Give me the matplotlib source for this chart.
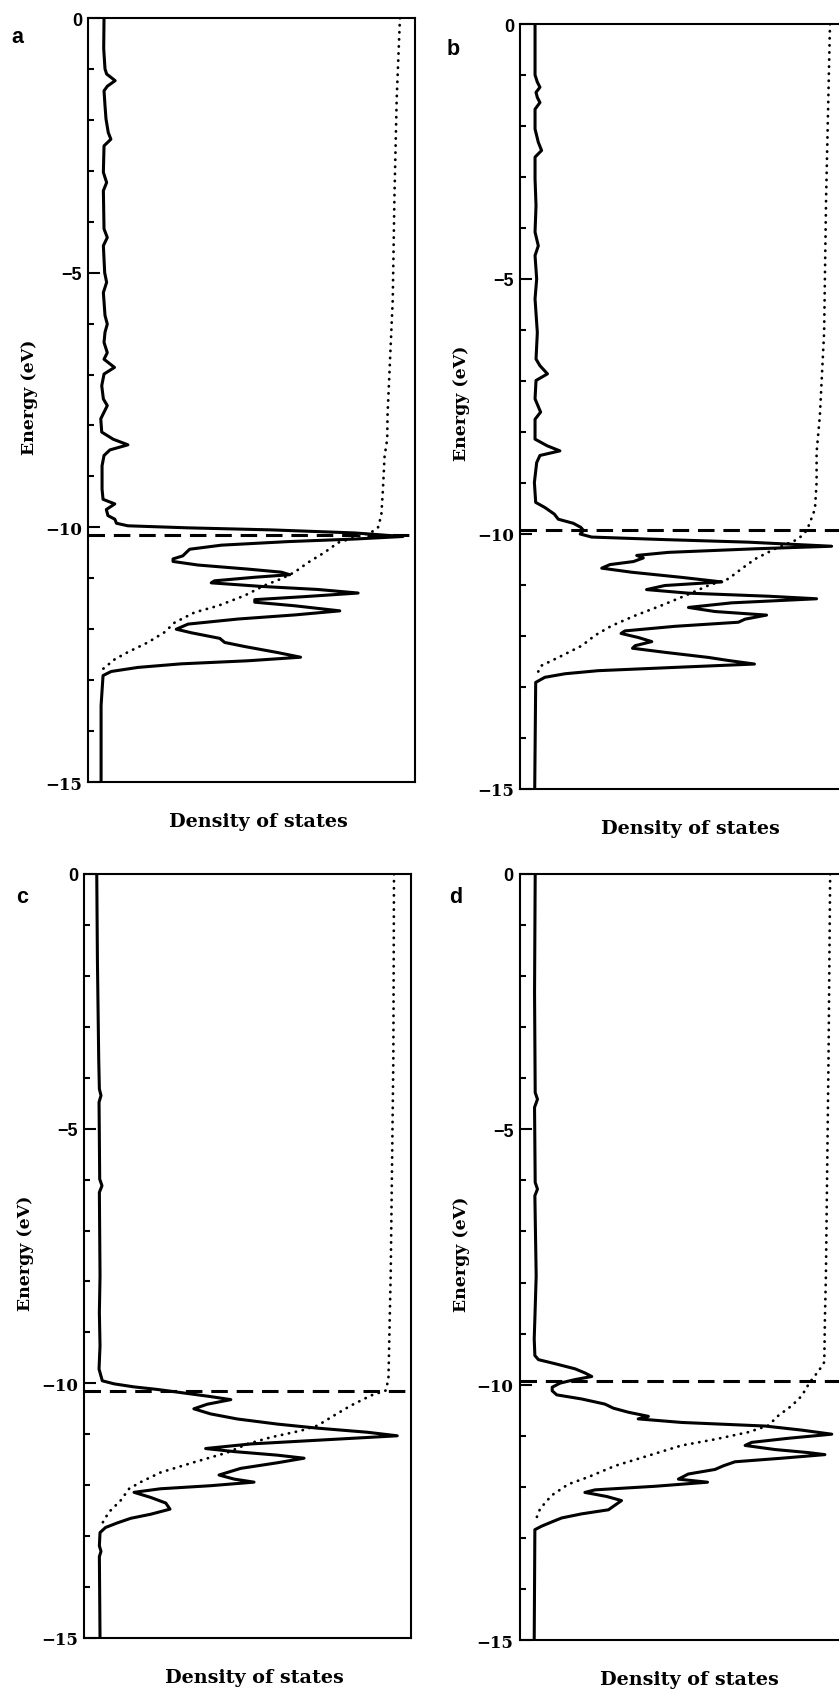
import matplotlib
matplotlib.use("Agg")
import matplotlib.pyplot as plt
from matplotlib.ticker import MultipleLocator
from matplotlib.font_manager import FontProperties

# ---------------- data (energy in eV, DOS in % of panel width) ----------------
# Panel a
a_solid_E = [0, -0.6, -1.0, -1.1, -1.23, -1.34, -1.43, -1.72, -1.98, -2.25, -2.38, -2.51, -3.03, -3.23,
             -3.39, -4.14, -4.31, -4.47, -5.0, -5.19, -5.39, -5.84, -6.01, -6.17, -6.37, -6.57, -6.7,
             -6.86, -6.99, -7.22, -7.48, -7.61, -7.74, -7.87, -8.13, -8.27, -8.38, -8.48, -8.59, -8.79,
             -9.25, -9.45, -9.54, -9.65, -9.77, -9.84, -9.92, -9.97, -10.01, -10.05, -10.11, -10.18,
             -10.23, -10.28, -10.35, -10.43, -10.49, -10.56, -10.62, -10.67, -10.74, -10.82, -10.88,
             -10.93, -10.98, -11.05, -11.09, -11.16, -11.22, -11.29, -11.36, -11.42, -11.47, -11.54,
             -11.64, -11.72, -11.8, -11.9, -12.0, -12.07, -12.18, -12.26, -12.34, -12.46, -12.55,
             -12.62, -12.68, -12.75, -12.83, -12.91, -13.5, -15.0]
a_solid_D = [4.9, 4.8, 5.2, 5.7, 8.3, 5.9, 4.9, 5.2, 5.5, 6.2, 7.0, 4.9, 4.7, 5.7,
             4.7, 4.9, 5.9, 4.7, 5.1, 5.7, 4.7, 5.2, 5.9, 5.2, 4.9, 5.9, 4.9,
             8.1, 4.9, 4.2, 4.7, 5.9, 4.9, 3.9, 4.2, 7.7, 12.2, 6.7, 4.9, 4.3,
             4.3, 4.6, 8.2, 5.6, 6.1, 8.2, 8.7, 12.2, 30.6, 56.0, 81.5, 96.3,
             81.5, 61.2, 40.8, 31.1, 30.1, 29.0, 26.0, 26.0, 33.6, 48.9, 59.1,
             61.7, 51.0, 38.7, 37.7, 53.0, 70.3, 82.6, 66.3, 51.0, 51.0, 63.2,
             77.0, 63.2, 45.9, 30.6, 27.0, 31.6, 40.3, 41.8, 47.9, 58.1, 65.0,
             48.9, 28.5, 15.3, 7.1, 4.6, 4.0, 4.0]
a_int_E = [0, -1.59, -3.55, -5.52, -7.8, -8.27, -8.6, -9.25, -9.76, -10.0, -10.1, -10.3, -10.49,
           -10.69, -10.88, -11.01, -11.14, -11.34, -11.54, -11.67, -11.87, -12.06, -12.26, -12.45,
           -12.59, -12.78]
a_int_D = [95.4, 94.4, 93.7, 93.2, 91.6, 91.5, 90.7, 90.2, 89.7, 88.7, 86.6, 76.5, 72.4,
           67.3, 63.2, 59.1, 54.0, 47.9, 39.8, 32.6, 26.5, 23.4, 18.3, 12.2,
           8.2, 4.6]
a_fermi = -10.16

# Panel b
b_solid_E = [0, -1.0, -1.14, -1.24, -1.34, -1.44, -1.54, -1.67, -2.06, -2.32, -2.48, -2.61, -3.04,
             -3.56, -4.08, -4.35, -4.54, -5.0, -5.39, -6.05, -6.57, -6.7, -6.86, -6.99, -7.35, -7.61,
             -7.75, -8.14, -8.27, -8.37, -8.46, -8.6, -8.99, -9.38, -9.48, -9.61, -9.71, -9.79, -9.87,
             -9.93, -10.0, -10.06, -10.11, -10.16, -10.24, -10.29, -10.36, -10.42, -10.47, -10.54,
             -10.6, -10.67, -10.75, -10.85, -10.94, -11.01, -11.09, -11.16, -11.22, -11.27, -11.35,
             -11.44, -11.52, -11.59, -11.67, -11.73, -11.81, -11.9, -11.95, -12.03, -12.11, -12.19,
             -12.24, -12.32, -12.42, -12.48, -12.55, -12.61, -12.68, -12.74, -12.81, -12.91, -15.0]
b_solid_D = [4.6, 4.6, 5.3, 6.1, 4.9, 5.3, 6.1, 4.6, 4.6, 5.6, 6.6, 4.6, 4.6,
             4.9, 4.6, 5.6, 4.6, 5.1, 4.6, 5.3, 4.9, 6.1, 8.4, 4.9, 4.6, 6.3,
             4.6, 4.6, 8.3, 12.2, 6.1, 5.1, 4.4, 4.8, 7.6, 10.5, 11.7, 16.3, 18.6,
             19.4, 18.4, 21.9, 44.3, 69.8, 95.3, 71.9, 45.4, 35.7, 37.7, 34.7,
             27.5, 25.0, 34.2, 49.4, 61.7, 44.3, 38.7, 51.5, 76.0, 90.7, 64.7,
             51.5, 59.6, 75.4, 68.8, 66.8, 47.4, 32.1, 30.9, 36.2, 40.3, 35.2,
             34.4, 44.3, 57.6, 63.7, 71.7, 49.4, 23.9, 13.8, 7.6, 4.8, 4.5]
b_int_E = [0, -3.43, -6.05, -7.68, -8.4, -8.99, -9.51, -9.77, -9.93, -10.1, -10.29, -10.49, -10.68,
           -10.88, -11.01, -11.21, -11.4, -11.6, -11.8, -11.99, -12.19, -12.39, -12.58, -12.81]
b_int_D = [94.8, 93.6, 93.0, 91.7, 90.7, 90.7, 90.2, 88.7, 87.7, 85.1, 78.0, 71.9, 67.8,
           63.7, 57.6, 50.5, 43.3, 35.2, 28.0, 22.9, 18.9, 12.7, 6.6, 4.6]
b_fermi = -9.92

# Panel c
c_solid_E = [0, -1.67, -3.63, -4.22, -4.35, -4.48, -5.99, -6.12, -6.25, -7.89, -8.61, -9.26, -9.72,
             -9.95, -10.01, -10.07, -10.12, -10.19, -10.26, -10.32, -10.41, -10.5, -10.6, -10.7,
             -10.8, -10.88, -10.96, -11.03, -11.11, -11.19, -11.28, -11.34, -11.41, -11.47, -11.56,
             -11.67, -11.8, -11.88, -11.94, -12.01, -12.07, -12.14, -12.24, -12.35, -12.47, -12.57,
             -12.65, -12.74, -12.83, -12.93, -13.19, -13.3, -13.4, -15.0]
c_solid_D = [3.9, 4.1, 4.5, 4.7, 5.2, 4.6, 4.8, 5.5, 4.7, 4.9, 4.7, 4.9, 4.6,
             5.6, 9.2, 15.3, 22.4, 30.6, 38.7, 44.9, 37.7, 33.6, 38.7, 46.9,
             59.1, 71.4, 86.6, 95.8, 73.4, 51.0, 37.2, 45.9, 59.1, 67.3, 59.1,
             47.9, 41.3, 45.9, 52.0, 38.7, 23.4, 15.3, 20.4, 25.0, 26.3, 20.4,
             14.3, 10.2, 6.6, 4.9, 4.7, 5.2, 4.7, 4.9]
c_int_E = [0, -3.63, -7.82, -9.92, -10.05, -10.14, -10.24, -10.44, -10.63, -10.83, -10.93, -11.06,
           -11.19, -11.36, -11.55, -11.75, -11.94, -12.07, -12.3, -12.53, -12.8]
c_int_D = [94.8, 94.6, 93.8, 93.1, 92.6, 92.3, 87.7, 81.5, 76.5, 71.4, 66.3, 57.1,
           50.0, 43.8, 33.6, 23.4, 17.3, 13.8, 11.2, 7.6, 5.1]
c_fermi = -10.16

# Panel d
d_solid_E = [0, -2.32, -4.28, -4.41, -4.57, -6.04, -6.17, -6.3, -7.87, -8.71, -9.1, -9.43, -9.51,
             -9.59, -9.69, -9.77, -9.84, -9.9, -9.97, -10.05, -10.12, -10.2, -10.28, -10.38, -10.46,
             -10.54, -10.62, -10.67, -10.74, -10.81, -10.89, -10.97, -11.05, -11.13, -11.19, -11.27,
             -11.33, -11.37, -11.44, -11.51, -11.59, -11.66, -11.75, -11.85, -11.91, -11.99, -12.06,
             -12.11, -12.19, -12.27, -12.36, -12.45, -12.53, -12.61, -12.69, -12.77, -12.84, -15.0]
d_solid_D = [4.8, 4.6, 4.8, 5.5, 4.6, 4.8, 5.5, 4.7, 5.1, 4.7, 4.5, 4.7, 5.8,
             10.9, 17.0, 20.0, 22.1, 17.0, 12.4, 10.0, 10.0, 11.4, 19.0, 26.1, 28.7,
             33.3, 39.4, 36.3, 49.6, 75.1, 86.3, 95.5, 82.2, 71.0, 69.0, 78.1,
             88.3, 93.4, 80.2, 65.9, 62.3, 59.8, 51.6, 48.6, 57.5, 41.4, 23.1,
             20.0, 26.7, 31.2, 29.2, 27.2, 19.0, 12.9, 9.8, 6.8, 4.7, 4.5]
d_int_E = [0, -3.62, -7.87, -8.71, -9.56, -9.69, -9.82, -9.95, -10.22, -10.41, -10.61, -10.8,
           -10.93, -11.07, -11.19, -11.39, -11.59, -11.81, -11.95, -12.17, -12.43, -12.69]
d_int_D = [95.0, 94.5, 93.7, 93.4, 93.2, 91.9, 90.4, 88.8, 86.3, 83.3, 79.1, 76.1,
           70.0, 59.8, 49.6, 39.4, 29.2, 21.0, 14.9, 9.8, 6.3, 4.7]
d_fermi = -9.92

panel_letters = ["a", "b", "c", "d"]
ytick_values = [0, -5, -10, -15]
ytick_labels = ["0", "\u22125", "\u221210", "\u221215"]
xlabel_text = "Density of states"
ylabel_text = "Energy (eV)"

# ---------------- figure ----------------
W, H = 839, 1690
fig = plt.figure(figsize=(W / 100, H / 100), dpi=100)

# pixel boxes: left, top, right, bottom
boxes = [(88, 19, 415, 783), (520, 25, 847, 790), (84, 875, 411, 1639), (519.5, 875, 846.5, 1641)]
letter_pos = [(11.7, 43.3), (446.7, 55), (16, 902.7), (449.3, 903.3)]

panels = [
    (a_solid_E, a_solid_D, a_int_E, a_int_D, a_fermi),
    (b_solid_E, b_solid_D, b_int_E, b_int_D, b_fermi),
    (c_solid_E, c_solid_D, c_int_E, c_int_D, c_fermi),
    (d_solid_E, d_solid_D, d_int_E, d_int_D, d_fermi),
]

sans_bold = FontProperties(family="Liberation Sans", weight="bold", size=13)
serif_bold = FontProperties(family="DejaVu Serif", weight="bold", size=12)

for i, ((sE, sD, iE, iD, ef), (l, t, r, b)) in enumerate(zip(panels, boxes)):
    ax = fig.add_axes([l / W, 1 - b / H, (r - l) / W, (b - t) / H])
    ax.set_xlim(0, 100)
    ax.set_ylim(-15, 0)
    ax.plot(sD, sE, color="black", lw=2.2, solid_joinstyle="round", solid_capstyle="round", zorder=3)
    ax.plot(iD, iE, color="black", lw=2.0, linestyle=(0, (0.1, 2.45)), dash_capstyle="round", zorder=3)
    ax.axhline(ef, color="black", lw=2.2, linestyle=(0, (5.4, 2.9)), zorder=4)

    for sp in ax.spines.values():
        sp.set_linewidth(1.5)
    ax.set_xticks([])
    ax.set_yticks(ytick_values, ytick_labels)
    ax.yaxis.set_minor_locator(MultipleLocator(1))
    ax.tick_params(axis="y", which="major", direction="in", length=8.6, width=1.5, pad=4.3)
    ax.tick_params(axis="y", which="minor", direction="in", length=4.5, width=1.5)
    for v, tk in zip(ytick_values, ax.yaxis.get_major_ticks()):
        tk.label1.set_fontproperties(sans_bold if v > -10 else serif_bold)

    wpx = r - l
    ax.text(-58 / wpx, 0.505, ylabel_text, transform=ax.transAxes, rotation=90,
            ha="center", va="center", family="DejaVu Serif", weight="bold", fontsize=12.5)
    ax.text(0.52, -39 / (b - t), xlabel_text, transform=ax.transAxes,
            ha="center", va="center", family="DejaVu Serif", weight="bold", fontsize=13.8)

    lx, ly = letter_pos[i]
    fig.text(lx / W, 1 - ly / H, panel_letters[i], ha="left", va="baseline",
             family="Liberation Sans", weight="bold", fontsize=15.5)

fig.savefig("out.png", dpi=100)
